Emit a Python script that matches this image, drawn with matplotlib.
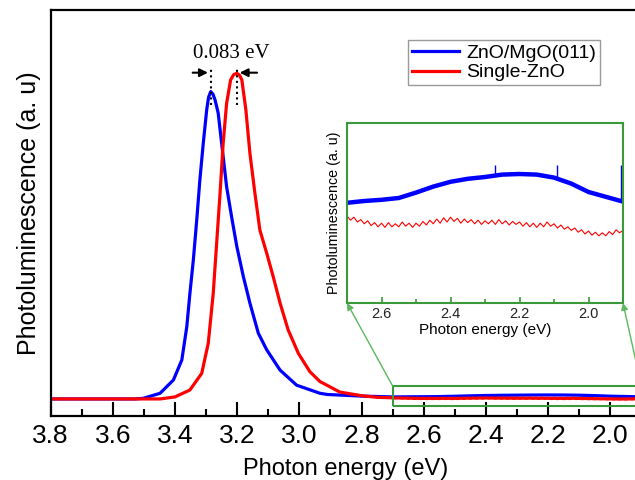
import numpy as np
import matplotlib
matplotlib.use("Agg")
import matplotlib.pyplot as plt
from matplotlib.patches import Rectangle, ConnectionPatch
from matplotlib.ticker import MultipleLocator

plt.rcParams['font.family'] = ['Liberation Sans', 'DejaVu Sans']

# peak region (eV, a.u.)
blue_E = [3.80, 3.60, 3.53, 3.502, 3.448, 3.405, 3.378, 3.362, 3.352, 3.341, 3.330,
          3.320, 3.309, 3.298, 3.292, 3.285, 3.278, 3.271, 3.261, 3.250, 3.234,
          3.218, 3.201, 3.180, 3.159, 3.132, 3.105, 3.062, 3.009, 2.934, 2.91,
          2.80]
blue_I = [42, 42, 42, 43.6, 55.9, 88.7, 137.9, 220, 302, 384, 483,
          581, 672, 754, 785, 799, 793, 778, 746, 672, 565,
          491, 417, 343, 278, 204, 163, 113, 76, 56, 53,
          49]

red_E = [3.80, 3.50, 3.448, 3.40, 3.352, 3.314, 3.293, 3.277, 3.266, 3.255, 3.245,
         3.234, 3.221, 3.211, 3.201, 3.193, 3.185, 3.172, 3.159, 3.143, 3.127,
         3.105, 3.084, 3.062, 3.036, 3.003, 2.966, 2.934, 2.87, 2.80, 2.75]
red_I = [42, 42, 42, 47, 64, 105, 179, 302, 425, 549, 672,
         770, 828, 841, 844, 840, 828, 754, 647, 549, 458,
         401, 343, 278, 212, 154, 109, 85, 59, 50, 46]

# tail region shown in the inset
blue_tail_E = [2.75, 2.70, 2.65, 2.60, 2.55, 2.50, 2.45, 2.40, 2.35, 2.30, 2.25,
               2.20, 2.15, 2.10, 2.05, 2.00, 1.95, 1.90]
blue_tail_I = [48.0, 47.0, 47.3, 47.5, 47.8, 48.7, 49.7, 50.5, 51.0, 51.3, 51.7,
               51.8, 51.7, 51.2, 50.2, 48.8, 48.0, 47.2]
spike_E = [2.27, 2.09, 1.905]
spike_base = [51.4, 51.1, 47.3]
spike_top = [53.3, 53.3, 53.3]

red_tail_E = list(np.round(np.arange(2.70, 1.895, -0.01), 2))
red_tail_I = [44.8, 44.1, 44.6, 43.8, 44.2, 43.5, 44.0, 43.2, 43.7, 43.0,
              43.6, 42.9, 43.7, 43.0, 43.5, 43.0, 43.8, 43.1, 43.6, 42.9,
              43.6, 43.1, 43.9, 43.3, 44.1, 43.5, 44.3, 43.6, 44.5, 43.8,
              44.6, 43.9, 44.4, 43.6, 44.3, 43.7, 44.2, 43.5, 44.1, 43.4,
              44.0, 43.5, 44.1, 43.4, 44.2, 43.5, 44.0, 43.3, 43.9, 43.4,
              43.8, 43.1, 43.7, 43.0, 43.6, 42.9, 43.6, 43.0, 43.8, 43.1,
              43.5, 42.8, 43.3, 42.6, 43.0, 42.4, 42.8, 42.1, 42.5, 41.8,
              42.3, 41.6, 42.1, 41.5, 42.0, 41.5, 42.2, 41.7, 42.5, 42.0,
              42.4]

blue_col = '#0000ff'
red_col = '#ff0000'
green = '#3a9a3a'

fig = plt.figure(figsize=(6.35, 4.8), dpi=100)
ax = fig.add_axes([50.6 / 635, 1 - 416 / 480, 590.8 / 635, 406 / 480])

ax.plot(blue_E + blue_tail_E[1:], blue_I + blue_tail_I[1:], color=blue_col, lw=2.3,
        label='ZnO/MgO(011)')
ax.plot(red_E + red_tail_E, red_I + red_tail_I, color=red_col, lw=2.3,
        label='Single-ZnO')
ax.set_xlim(3.8, 1.9)
ax.set_ylim(0, 1000)
ticks = [3.8, 3.6, 3.4, 3.2, 3.0, 2.8, 2.6, 2.4, 2.2, 2.0]
ax.set_xticks(ticks)
ax.set_xticklabels([f'{v:.1f}' for v in ticks])
ax.xaxis.set_minor_locator(MultipleLocator(0.1))
ax.set_yticks([])
ax.tick_params(axis='x', which='major', direction='in', length=10, width=1.5,
               labelsize=19, pad=6)
ax.tick_params(axis='x', which='minor', direction='in', length=5, width=1.5)
for s in ax.spines.values():
    s.set_linewidth(1.6)
ax.set_xlabel('Photon energy (eV)', fontsize=17, labelpad=7)
ax.set_ylabel('Photoluminescence (a. u)', fontsize=18, labelpad=7)

# peak shift annotation
ax.vlines([3.285, 3.201], 766, 860, colors='k', linestyles=':', lw=1.5)
ax.annotate('', xy=(3.285, 845.6), xytext=(3.352, 845.6),
            arrowprops=dict(arrowstyle='-|>', color='k', lw=1.5, mutation_scale=12))
ax.annotate('', xy=(3.201, 845.6), xytext=(3.127, 845.6),
            arrowprops=dict(arrowstyle='-|>', color='k', lw=1.5, mutation_scale=12))
ax.text(3.218, 894, '0.083 eV', ha='center', va='center', fontsize=15,
        family=['Liberation Serif', 'DejaVu Serif'])

leg = fig.legend(loc='upper left', bbox_to_anchor=(408 / 635, 1 - 40 / 480),
                 fontsize=14, frameon=True, fancybox=False, edgecolor='#808080',
                 handlelength=2.4, handletextpad=0.4, borderpad=0.2, labelspacing=0.12,
                 borderaxespad=0)
leg.get_frame().set_linewidth(1.0)
for h in leg.get_lines():
    h.set_linewidth(2.3)

# zoom box on main axes
ax.add_patch(Rectangle((2.7, 24.6), -0.8, 49.3, fill=False, edgecolor=green, lw=1.5,
                       zorder=5))

# inset
ins = fig.add_axes([347 / 635, 1 - 303 / 480, 276 / 635, 180 / 480])
ins.plot(blue_tail_E[1:], blue_tail_I[1:], color=blue_col, lw=3.2)
ins.vlines(spike_E, spike_base, spike_top, colors=blue_col, lw=1.0)
ins.plot(red_tail_E, red_tail_I, color=red_col, lw=0.8)
ins.set_xlim(2.7, 1.9)
ins.set_ylim(30.3, 60.3)
ins.set_yticks([])
ins.set_xticks([2.6, 2.4, 2.2, 2.0])
ins.set_xticklabels(['2.6', '2.4', '2.2', '2.0'])
ins.xaxis.set_minor_locator(MultipleLocator(0.1))
ins.tick_params(axis='x', which='major', direction='in', length=4, width=1.2,
                color=green, labelsize=10.5, labelcolor='#222222', pad=3)
ins.tick_params(axis='x', which='minor', direction='in', length=3, width=1.2,
                color=green)
for s in ins.spines.values():
    s.set_color(green)
    s.set_linewidth(1.5)
ins.set_xlabel('Photon energy (eV)', fontsize=11, labelpad=1)
ins.set_ylabel('Photoluminescence (a. u)', fontsize=10.3, labelpad=4)

for xa, xb in [(2.7, 0.0), (1.9, 1.0)]:
    con = ConnectionPatch(xyA=(xa, 73.9), coordsA=ax.transData,
                          xyB=(xb, 0.0), coordsB=ins.transAxes,
                          arrowstyle='-|>', color='#5cb85c', lw=1.0,
                          mutation_scale=10)
    fig.add_artist(con)

fig.savefig('out.png', dpi=100)
